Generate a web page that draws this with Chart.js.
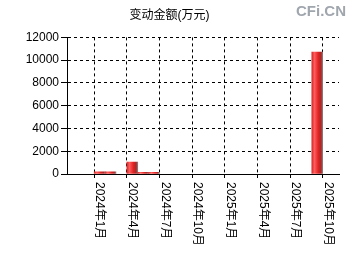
<!DOCTYPE html>
<html>
<head>
<meta charset="utf-8">
<script src="https://cdn.jsdelivr.net/npm/chart.js@4"></script>
<style>
  html, body { margin: 0; padding: 0; background: #fff; }
  #wrap { width: 350px; height: 260px; }
</style>
</head>
<body>
<div id="wrap"><canvas id="chart"></canvas></div>
<script>
// months along the x axis (axis runs from 2023-10 to 2025-11)
const months = [
    '2023年10月', '2023年11月', '2023年12月',
    '2024年1月', '2024年2月', '2024年3月', '2024年4月', '2024年5月', '2024年6月',
    '2024年7月', '2024年8月', '2024年9月', '2024年10月', '2024年11月', '2024年12月',
    '2025年1月', '2025年2月', '2025年3月', '2025年4月', '2025年5月', '2025年6月',
    '2025年7月', '2025年8月', '2025年9月', '2025年10月', '2025年11月'
];
const tickLabels = ['2024年1月', '2024年4月', '2024年7月', '2024年10月',
    '2025年1月', '2025年4月', '2025年7月', '2025年10月'];
const gridMonths = ['2023年10月'].concat(tickLabels);
const amounts = [
    null, null, null,
    180, 180, null, 1050, 150, 150,
    null, null, null, null, null, null,
    null, null, null, null, null, null,
    null, null, 10700, null, null
];
const yTicks = [0, 2000, 4000, 6000, 8000, 10000, 12000];

const FONT = "'Liberation Sans', 'Noto Sans CJK SC', sans-serif";

function barFill(context) {
    const chart = context.chart;
    const xs = chart.scales.x;
    if (!xs) return '#e02020';
    const x = xs.getPixelForValue(context.dataIndex);
    if (!isFinite(x)) return '#e02020';
    const w = 11;
    const g = chart.ctx.createLinearGradient(x - w / 2, 0, x + w / 2, 0);
    g.addColorStop(0, '#d42a2a');
    g.addColorStop(0.25, '#ff5c5c');
    g.addColorStop(0.6, '#e22222');
    g.addColorStop(0.85, '#a82828');
    g.addColorStop(1, '#8a8080');
    return g;
}

const labelPlugin = {
    id: 'rotLabels',
    afterDraw(chart) {
        const ctx = chart.ctx;
        const xs = chart.scales.x;
        ctx.save();
        ctx.font = '12px ' + FONT;
        ctx.fillStyle = '#000';
        ctx.textAlign = 'left';
        ctx.textBaseline = 'middle';
        tickLabels.forEach((lab) => {
            const i = months.indexOf(lab);
            const x = xs.getPixelForValue(i);
            ctx.save();
            ctx.translate(x, chart.chartArea.bottom + 8);
            ctx.rotate(Math.PI / 2);
            ctx.fillText(lab, 0, 0);
            ctx.restore();
        });
        // watermark
        ctx.font = 'bold 15px ' + FONT;
        ctx.fillStyle = '#a0a6ae';
        ctx.textAlign = 'right';
        ctx.textBaseline = 'top';
        ctx.fillText('CFi.CN', 346, 4);
        ctx.restore();
    }
};

const chart = new Chart(document.getElementById('chart'), {
    type: 'bar',
    data: {
        labels: months,
        datasets: [{
            label: '变动金额',
            data: amounts,
            backgroundColor: barFill,
            barPercentage: 1,
            categoryPercentage: 1,
        }]
    },
    options: {
        responsive: true,
        maintainAspectRatio: false,
        animation: false,
        layout: { padding: { left: 0, right: 11, top: 0, bottom: 0 } },
        plugins: {
            legend: { display: false },
            tooltip: { enabled: false },
            title: {
                display: true,
                text: '变动金额(万元)',
                color: '#000',
                font: { family: FONT, size: 12, weight: 'normal' },
                padding: { top: 8, bottom: 15 }
            }
        },
        scales: {
            x: {
                offset: false,
                ticks: { display: false },
                grid: {
                    color: (c) => gridMonths.includes(months[c.index]) ? '#000' : 'rgba(0,0,0,0)',
                    tickLength: 4,
                    tickBorderDash: [],
                    drawTicks: true,
                },
                border: { display: true, color: '#000', width: 1, dash: [3, 3] },
                afterFit: (s) => { s.height = 86; }
            },
            y: {
                min: 0,
                max: 12000,
                afterBuildTicks: (s) => { s.ticks = yTicks.map((v) => ({ value: v })); },
                ticks: {
                    color: '#000',
                    padding: 2,
                    font: { family: FONT, size: 12 },
                    callback: (v) => String(v)
                },
                grid: {
                    color: '#000',
                    tickLength: 6,
                    tickBorderDash: [],
                },
                border: { display: true, color: '#000', width: 1, dash: [3, 3] },
                afterFit: (s) => { s.width = 67; }
            }
        }
    },
    plugins: [labelPlugin]
});
chart.update();
</script>
</body>
</html>
